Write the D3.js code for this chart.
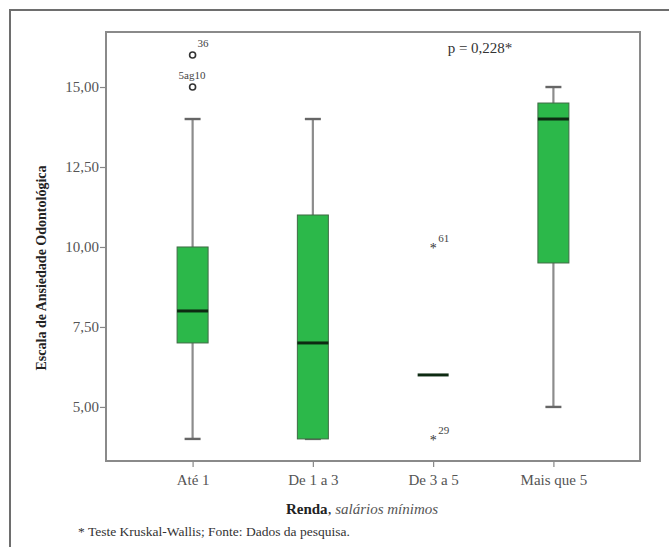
<!DOCTYPE html>
<meta charset="utf-8">
<style>
  body { margin: 0; background: #fff; }
  svg text { font-family: "Liberation Serif", "Times New Roman", serif; }
</style>
<body>
<script src="https://cdn.jsdelivr.net/npm/d3@7/dist/d3.min.js"></script>
<script>
  // categories and box statistics
  var categories = ["Até 1", "De 1 a 3", "De 3 a 5", "Mais que 5"];
  var whiskerLow = [4, 4, 6, 5];
  var q1 = [7, 4, 6, 9.5];
  var median = [8, 7, 6, 14];
  var q3 = [10, 11, 6, 14.5];
  var whiskerHigh = [14, 14, 6, 15];
  // outliers: [category, value, label, kind]
  var outliers = [
    ["Até 1", 16, "36", "o"],
    ["Até 1", 15, "5ag10", "o"],
    ["De 3 a 5", 10, "61", "*"],
    ["De 3 a 5", 4, "29", "*"]
  ];
  var yTicks = [5, 7.5, 10, 12.5, 15];

  var W = 669, H = 547;
  var margin = { top: 32, right: 29, bottom: 86, left: 106 };
  var width = W - margin.left - margin.right,
      height = H - margin.top - margin.bottom;
  var serif = "'Liberation Serif', 'Times New Roman', serif";

  var svg = d3.select("body").append("svg")
    .attr("width", W).attr("height", H)
    .attr("font-family", serif);

  // outer frame (only top and left visible in the picture)
  svg.append("path")
    .attr("d", "M10," + H + "V10H" + W)
    .attr("fill", "none").attr("stroke", "#6e6e6e").attr("stroke-width", 2);

  var g = svg.append("g")
    .attr("transform", "translate(" + margin.left + "," + margin.top + ")");

  var x = d3.scalePoint().domain(categories).range([0, width]).padding(0.72);
  var y = d3.scaleLinear().domain([3.31, 16.72]).range([height, 0]);

  var fmt = function (d) { return d3.format(".2f")(d).replace(".", ","); };

  // y axis
  var yAxis = g.append("g")
    .call(d3.axisLeft(y).tickValues(yTicks).tickFormat(fmt).tickSize(6).tickPadding(1));
  yAxis.attr("font-family", serif).attr("font-size", 15);
  yAxis.select(".domain").remove();
  yAxis.selectAll("line").attr("stroke", "#888").attr("stroke-width", 1.2);
  yAxis.selectAll("text").attr("fill", "#555");

  // x axis
  var xAxis = g.append("g")
    .attr("transform", "translate(0," + height + ")")
    .call(d3.axisBottom(x).tickSize(6).tickPadding(7));
  xAxis.attr("font-family", serif).attr("font-size", 15);
  xAxis.select(".domain").remove();
  xAxis.selectAll("line").attr("stroke", "#888").attr("stroke-width", 1.2);
  xAxis.selectAll("text").attr("fill", "#555");

  var boxW = 31, capW = 16;
  var boxes = g.selectAll(".box").data(categories).enter().append("g")
    .attr("transform", function (d) { return "translate(" + x(d) + ",0)"; });

  // whiskers
  boxes.append("line")
    .attr("x1", 0).attr("x2", 0)
    .attr("y1", function (d, i) { return y(whiskerHigh[i]); })
    .attr("y2", function (d, i) { return y(whiskerLow[i]); })
    .attr("stroke", "#8c8c8c").attr("stroke-width", 2.2);
  boxes.each(function (d, i) {
    if (whiskerHigh[i] === whiskerLow[i]) return;
    [whiskerHigh[i], whiskerLow[i]].forEach(function (v) {
      d3.select(this).append("line")
        .attr("x1", -capW / 2).attr("x2", capW / 2)
        .attr("y1", y(v)).attr("y2", y(v))
        .attr("stroke", "#666").attr("stroke-width", 2.4);
    }, this);
  });

  // boxes
  boxes.append("rect")
    .attr("x", -boxW / 2).attr("width", boxW)
    .attr("y", function (d, i) { return y(q3[i]); })
    .attr("height", function (d, i) { return y(q1[i]) - y(q3[i]); })
    .attr("fill", "#2cb84a").attr("stroke", "#3f6b45").attr("stroke-width", 1);

  // medians
  boxes.append("line")
    .attr("x1", -boxW / 2).attr("x2", boxW / 2)
    .attr("y1", function (d, i) { return y(median[i]); })
    .attr("y2", function (d, i) { return y(median[i]); })
    .attr("stroke", "#0d2a12").attr("stroke-width", 3);

  // outliers
  outliers.forEach(function (o) {
    var cx = x(o[0]), cy = y(o[1]);
    if (o[3] === "o") {
      g.append("circle").attr("cx", cx).attr("cy", cy).attr("r", 3)
        .attr("fill", "none").attr("stroke", "#333").attr("stroke-width", 1.6);
      g.append("text").attr("x", o[2].length > 2 ? cx - 14 : cx + 5)
        .attr("y", cy - 8).attr("font-size", 11).attr("fill", "#444").text(o[2]);
    } else {
      g.append("text").attr("x", cx).attr("y", cy + 6)
        .attr("text-anchor", "middle").attr("font-size", 14).attr("fill", "#333").text("*");
      g.append("text").attr("x", cx + 5).attr("y", cy - 5)
        .attr("font-size", 11).attr("fill", "#444").text(o[2]);
    }
  });

  // plot frame
  g.append("rect").attr("width", width).attr("height", height)
    .attr("fill", "none").attr("stroke", "#8a8a8a").attr("stroke-width", 2);

  // p value
  svg.append("text").attr("x", 480).attr("y", 53).attr("text-anchor", "middle")
    .attr("font-size", 15).attr("fill", "#333").text("p = 0,228*");

  // y label
  svg.append("text")
    .attr("transform", "translate(46,268) rotate(-90)")
    .attr("text-anchor", "middle").attr("font-size", 14).attr("font-weight", "bold")
    .attr("fill", "#222").text("Escala de Ansiedade Odontológica");

  // x label
  var xl = svg.append("text").attr("x", 362).attr("y", 514).attr("text-anchor", "middle")
    .attr("font-size", 15).attr("fill", "#222");
  xl.append("tspan").attr("font-weight", "bold").text("Renda");
  xl.append("tspan").text(", ");
  xl.append("tspan").attr("font-style", "italic").attr("fill", "#555").text("salários mínimos");

  // footnote
  svg.append("text").attr("x", 78).attr("y", 536)
    .attr("font-size", 13.5).attr("fill", "#333")
    .text("* Teste Kruskal-Wallis; Fonte: Dados da pesquisa.");
</script>
</body>
